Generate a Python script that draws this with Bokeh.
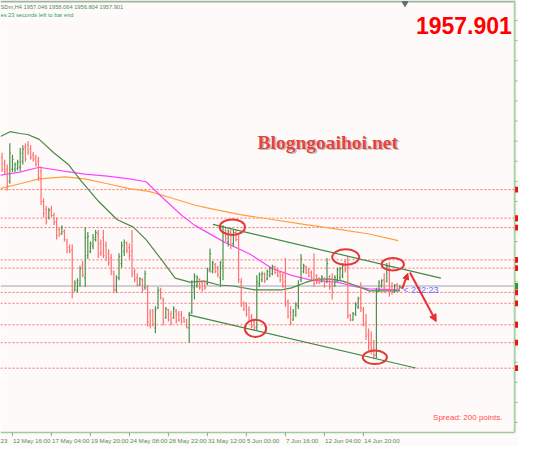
from bokeh.plotting import figure
from bokeh.models import Range1d, FixedTicker, ColumnDataSource, Arrow, NormalHead
from bokeh.core.properties import value
from bokeh.embed import file_html
from bokeh.resources import INLINE

# ---------------- data (XAUUSD, H4) ----------------
opens = [2021, 2022, 2019, 2016, 2010, 2016, 2016, 2016.5, 2017, 2020,
         2027, 2028, 2026, 2023, 2022, 2020, 2015, 2000, 1996, 1992,
         1996, 1993, 1990, 1986, 1984, 1985, 1980, 1977, 1976, 1956,
         1956, 1959, 1968.5, 1962, 1973, 1975, 1978, 1981, 1984, 1979,
         1982, 1978, 1974, 1972, 1964, 1956, 1962, 1969, 1975, 1979,
         1977, 1975, 1965, 1962, 1958.5, 1961, 1957, 1957, 1944, 1945,
         1937, 1947, 1956, 1951, 1942, 1946, 1944, 1942, 1945.5, 1944,
         1943.5, 1942, 1941, 1937, 1945, 1957, 1958, 1961, 1959.5, 1960,
         1959, 1966, 1965, 1968.5, 1967, 1962, 1968, 1985.5, 1980, 1984.5,
         1979, 1984.5, 1981, 1960, 1949.5, 1948, 1946, 1942.5, 1940, 1937.5,
         1959, 1961, 1964, 1961.5, 1963.5, 1964, 1967.5, 1966, 1964.5, 1963,
         1960, 1950, 1945, 1941, 1943.5, 1948, 1961, 1965, 1967.5, 1966,
         1964.5, 1962, 1963, 1961.5, 1960, 1961.5, 1959.5, 1962.5, 1959, 1958,
         1961, 1962, 1963, 1970, 1967, 1943.5, 1941, 1944, 1947.5, 1952,
         1946, 1940, 1934, 1929, 1927, 1923.5, 1955.5, 1958, 1961, 1960,
         1967, 1957.5, 1955, 1958.5, 1956.8, 1957.046]
highs = [2023.2, 2024.2, 2020.8, 2018.4, 2029.0, 2023.2, 2019.4, 2020.8, 2026.6, 2028.0,
         2029.0, 2029.9, 2028.0, 2024.6, 2023.2, 2022.2, 2017.4, 2001.6, 1997.8, 1996.8,
         1997.8, 1994.4, 1992.0, 1987.2, 1988.2, 1986.2, 1981.4, 1978.6, 1978.6, 1960.8,
         1961.8, 1968.0, 1970.4, 1987.2, 1984.8, 1980.0, 1983.8, 1985.8, 1985.8, 1981.0,
         1985.8, 1980.0, 1976.2, 1973.8, 1965.6, 1963.2, 1974.2, 1980.0, 1981.0, 1980.0,
         1979.0, 1985.8, 1966.6, 1964.2, 1962.2, 1961.8, 1965.6, 1958.4, 1946.4, 1946.4,
         1947.8, 1957.4, 1957.0, 1952.2, 1947.4, 1946.4, 1945.4, 1947.8, 1946.4, 1945.4,
         1945.4, 1942.6, 1941.6, 1945.0, 1960.8, 1964.2, 1963.2, 1961.8, 1960.8, 1960.8,
         1967.0, 1976.6, 1970.4, 1969.4, 1968.0, 1970.4, 1988.2, 1987.2, 1986.2, 1986.2,
         1985.8, 1985.8, 1983.8, 1961.8, 1950.2, 1949.8, 1947.8, 1944.0, 1941.6, 1963.2,
         1964.6, 1965.1, 1964.6, 1966.1, 1967.5, 1968.5, 1968.0, 1967.0, 1965.6, 1964.6,
         1971.8, 1951.2, 1947.8, 1946.4, 1949.8, 1960.8, 1973.8, 1969.0, 1968.0, 1967.0,
         1965.6, 1974.2, 1963.7, 1962.2, 1963.2, 1962.2, 1971.8, 1963.2, 1964.2, 1963.2,
         1967.0, 1967.5, 1969.4, 1971.4, 1972.8, 1944.0, 1945.0, 1949.8, 1952.6, 1959.8,
         1947.4, 1944.0, 1936.8, 1935.4, 1931.0, 1957.0, 1960.8, 1961.3, 1964.2, 1969.4,
         1969.9, 1959.8, 1958.9, 1959.4, 1958.4, 1958.064]
lows = [2011.2, 2014.6, 2013.6, 2005.4, 2008.8, 2014.6, 2014.6, 2015.5, 2015.0, 2018.4,
        2019.8, 2023.2, 2020.8, 2019.8, 2017.4, 2010.2, 1998.2, 1992.0, 1988.6, 1991.0,
        1992.0, 1988.2, 1981.0, 1982.4, 1983.4, 1980.0, 1974.2, 1974.2, 1951.7, 1955.0,
        1954.6, 1957.4, 1962.2, 1957.4, 1971.4, 1974.2, 1976.2, 1980.0, 1971.8, 1972.8,
        1971.8, 1970.4, 1968.0, 1963.2, 1954.6, 1954.6, 1960.8, 1967.0, 1972.8, 1974.2,
        1971.4, 1962.2, 1959.8, 1957.4, 1957.9, 1954.6, 1956.0, 1937.8, 1936.8, 1937.8,
        1934.4, 1946.4, 1951.2, 1938.2, 1941.6, 1940.2, 1938.2, 1941.6, 1939.2, 1940.2,
        1939.2, 1939.7, 1936.8, 1929.6, 1944.0, 1951.2, 1957.0, 1956.0, 1955.0, 1956.0,
        1958.4, 1964.6, 1964.2, 1964.2, 1962.2, 1957.4, 1960.8, 1980.0, 1977.6, 1976.2,
        1977.6, 1980.0, 1959.4, 1947.4, 1945.4, 1942.6, 1940.2, 1936.8, 1935.8, 1935.8,
        1957.4, 1959.8, 1959.4, 1960.8, 1962.2, 1963.2, 1963.7, 1962.2, 1959.8, 1957.0,
        1947.4, 1941.6, 1938.2, 1940.6, 1942.6, 1946.4, 1959.8, 1964.2, 1963.7, 1962.2,
        1960.8, 1957.4, 1958.9, 1958.9, 1959.8, 1957.0, 1959.4, 1956.0, 1951.2, 1957.4,
        1959.8, 1960.8, 1961.8, 1964.6, 1941.6, 1940.2, 1940.6, 1943.0, 1946.4, 1945.0,
        1937.8, 1931.0, 1925.8, 1923.8, 1921.4, 1921.9, 1955.0, 1957.0, 1954.6, 1959.8,
        1952.6, 1953.6, 1954.6, 1956.0, 1956.5, 1956.804]
closes = [2013, 2016, 2015, 2008, 2024, 2021, 2018.5, 2019.5, 2024, 2026,
          2021, 2024.5, 2022, 2021, 2018.5, 2012, 2000, 1994, 1990, 1995.5,
          1993, 1989.5, 1983, 1983.5, 1987, 1981, 1975.5, 1975, 1955, 1959.5,
          1960.5, 1966.5, 1963.5, 1982, 1982.5, 1979, 1982, 1984.5, 1974, 1974.5,
          1973, 1972, 1969.5, 1965, 1956, 1962, 1972.5, 1978, 1979.5, 1975.5,
          1973, 1964, 1961, 1958.5, 1961.5, 1956, 1964, 1940, 1938, 1939,
          1946, 1955.5, 1952, 1940, 1946.5, 1941, 1939.5, 1946.5, 1940.5, 1941,
          1940, 1940, 1937.5, 1944, 1958, 1962.5, 1962, 1957, 1956, 1957,
          1965.5, 1974, 1969.5, 1965, 1963.5, 1969.5, 1984, 1981.5, 1985, 1978,
          1984.5, 1981, 1961, 1949, 1946.5, 1944, 1941.5, 1938, 1937, 1960,
          1963.5, 1964, 1960.5, 1965, 1966.5, 1967.5, 1964.5, 1963, 1961, 1958,
          1949, 1943, 1939.5, 1945, 1948.5, 1958.5, 1971.5, 1968, 1964.5, 1963,
          1961.5, 1959, 1960, 1959.5, 1962.5, 1958, 1969, 1957.5, 1955, 1962,
          1966, 1966.5, 1968, 1966, 1943, 1941, 1944, 1948.5, 1951.5, 1947,
          1939, 1933, 1928, 1926, 1923.5, 1955, 1959.5, 1960.5, 1957, 1967.5,
          1955, 1955, 1958, 1956.5, 1957.3, 1957.901]

# moving averages (bar position, price)
ma_green_x = [0.4, 4.1, 7.9, 10.9, 15.3, 20.9, 26.5, 31.4, 37.7, 45.2, 51.5, 56.4, 62.7, 67.6,
              73.2, 78.8, 84.4, 90.0, 98.2, 108.6, 112.4, 118.0, 122.4, 127.3, 132.1, 138.5, 142.2, 154.1]
ma_green_y = [2032.3, 2034.7, 2033.8, 2033.3, 2030.9, 2024.2, 2018.4, 2010.2, 2000.6, 1991.0, 1987.2,
              1981.0, 1970.4, 1961.8, 1959.8, 1960.3, 1958.4, 1957.9, 1956.0, 1956.0, 1957.0, 1959.8,
              1961.3, 1961.3, 1960.3, 1957.4, 1955.5, 1955.5]
ma_magenta_x = [0.4, 7.9, 15.3, 25.4, 32.9, 41.5, 50.0, 56.4, 63.8, 70.2, 75.0, 86.2, 96.3, 104.9,
                112.4, 119.8, 129.9, 137.4, 142.2, 154.1]
ma_magenta_y = [2013.1, 2014.6, 2017.0, 2015.0, 2013.6, 2012.6, 2011.2, 2009.8, 2000.6, 1993.0, 1988.2,
                1980.0, 1973.8, 1966.6, 1963.2, 1960.8, 1959.8, 1957.4, 1956.5, 1956.0]
ma_orange_x = [0.4, 7.9, 15.3, 25.4, 32.9, 41.5, 50.0, 57.5, 66.5, 75.0, 79.9, 92.6, 104.9, 117.2,
               130.0, 142.2, 153.4]
ma_orange_y = [2006.4, 2008.8, 2011.2, 2012.2, 2011.2, 2008.8, 2006.4, 2005.0, 2001.6, 1998.2, 1996.8,
               1993.4, 1991.0, 1988.6, 1986.2, 1983.8, 1980.5]

# horizontal levels and bid
level_prices = [2005.9, 1991.7, 1987.0, 1970.9, 1966.8, 1954.7, 1949.3, 1938.6, 1929.7, 1917.0]
bid_price = 1957.901

# channel trend lines (bar, price)
upper_line_x = [82.1, 169.8]
upper_line_y = [1988.6, 1961.8]
lower_line_x = [72.8, 160.1]
lower_line_y = [1943.5, 1917.1]

# marked swing points (ellipses)
mark_x = [89.6, 133.2, 151.3, 98.5, 144.4]
mark_y = [1987.2, 1972.3, 1968.7, 1936.8, 1922.4]
mark_w = [9.7, 10.4, 8.6, 8.2, 9.3]
mark_h = [7.7, 7.7, 6.2, 8.6, 6.7]

# time axis: tick bars and their labels (label text starts at its tick)
tick_bars = [5.0, 20.0, 35.0, 50.0, 65.0, 80.0, 95.0, 110.0, 125.0, 140.0]
tick_labels = ["12 May 16:00", "17 May 04:00", "19 May 20:00", "24 May 08:00", "28 May 22:00",
               "31 May 12:00", "5 Jun 00:00", "7 Jun 16:00", "12 Jun 04:00", "14 Jun 20:00"]
first_label = "23"

# ---------------- styling ----------------
BG = "#fffafa"
UP = "#4a924a"
DOWN = "#ff7272"
X0, X1 = 0.41, 199.66
Y0, Y1 = 1883.0, 2100.0
AXIS_P = 1884.96
EDGE = 198.2
FONT = value("Liberation Sans")
LABEL_PX = 6.2
PX_PER_BAR = 518 / (X1 - X0)

p = figure(width=518, height=446, x_range=Range1d(X0, X1), y_range=Range1d(Y0, Y1),
           output_backend="svg", toolbar_location=None, y_axis_location=None,
           min_border_left=0, min_border_right=0, min_border_top=0, min_border_bottom=10,
           background_fill_color=BG, border_fill_color=BG, outline_line_color=None)
p.grid.visible = False

# label axis: labels centred so that each text begins at its tick
def half_width_em(s):
    w = 0.0
    for ch in s:
        w += 0.278 if ch in " :" else (0.833 if ch == "M" else (0.5 if ch in "Jy" else 0.556))
    return w / 2

centers = [X0 + 1.2] + [t + half_width_em(s) * LABEL_PX / PX_PER_BAR + 0.2
                        for t, s in zip(tick_bars, tick_labels)]
texts = [first_label] + tick_labels
ax = p.xaxis[0]
ax.ticker = FixedTicker(ticks=centers)
ax.major_label_overrides = {c: s for c, s in zip(centers, texts)}
ax.major_label_text_font = "Liberation Sans"
ax.major_label_text_font_size = f"{LABEL_PX}px"
ax.major_label_text_color = "#4f8f4f"
ax.major_label_standoff = 0
ax.major_tick_in = 0
ax.major_tick_out = 0
ax.major_tick_line_color = None
ax.minor_tick_line_color = None
ax.axis_line_color = None

# time axis line and tick marks
p.line([X0, EDGE], [AXIS_P, AXIS_P], line_color="#9ccc9c", line_width=1.5)
p.segment(x0=tick_bars, y0=[AXIS_P] * len(tick_bars), x1=tick_bars, y1=[Y0] * len(tick_bars),
          line_color="#7cb87c", line_width=1)

# horizontal levels
p.multi_line(xs=[[X0, EDGE] for _ in level_prices], ys=[[v, v] for v in level_prices],
             line_color="#ff5a5a", line_width=1, line_dash="2 2", line_alpha=0.9)
p.line([X0, EDGE], [bid_price, bid_price], line_color="#a4a4ae", line_width=1)

# moving averages
p.line(ma_orange_x, ma_orange_y, line_color="#ffa040", line_width=1.2)
p.line(ma_magenta_x, ma_magenta_y, line_color="#ff44ff", line_width=1.2)
p.line(ma_green_x, ma_green_y, line_color="#4a8a4a", line_width=1.2)

# OHLC bars
idx = list(range(len(opens)))
cols = [UP if c >= o else DOWN for o, c in zip(opens, closes)]
src = ColumnDataSource(dict(x=idx, xl=[i - 0.45 for i in idx], xr=[i + 0.45 for i in idx],
                            o=opens, h=highs, l=lows, c=closes, col=cols))
p.segment(x0="x", y0="l", x1="x", y1="h", line_color="col", line_width=1.2, source=src)
p.segment(x0="xl", y0="o", x1="x", y1="o", line_color="col", line_width=1, source=src)
p.segment(x0="x", y0="c", x1="xr", y1="c", line_color="col", line_width=1, source=src)

# channel
p.line(upper_line_x, upper_line_y, line_color="#3f8a3f", line_width=1.2)
p.line(lower_line_x, lower_line_y, line_color="#3f8a3f", line_width=1.2)

# ellipses
p.ellipse(x=mark_x, y=mark_y, width=mark_w, height=mark_h, fill_color=None,
          line_color="#e03a3a", line_width=2)

# arrows
p.add_layout(Arrow(end=NormalHead(size=6, fill_color="#e83030", line_color="#e83030"),
                   x_start=154.9, y_start=1956.5, x_end=157.1, y_end=1964.2,
                   line_color="#e83030", line_width=2))
p.add_layout(Arrow(end=NormalHead(size=7, fill_color="#e83030", line_color="#e83030"),
                   x_start=157.9, y_start=1964.6, x_end=168.0, y_end=1940.2,
                   line_color="#e83030", line_width=2))

# frame edges of the terminal window
p.line([X0, EDGE], [2099.5, 2099.5], line_color="#a0b4a0", line_width=2)
p.line([EDGE, EDGE], [AXIS_P, Y1], line_color="#a8d4a8", line_width=2)
tick_prices = list(range(1890, 2100, 10))
p.segment(x0=[EDGE] * len(tick_prices), y0=tick_prices, x1=[EDGE + 1.1] * len(tick_prices),
          y1=tick_prices, line_color="#8cc08c", line_width=1)
p.rect(x=[199.0] * len(level_prices), y=level_prices, width=1.3, height=2.9,
       fill_color="#ee1111", line_color=None)
p.rect(x=[199.0], y=[bid_price], width=1.3, height=2.9, fill_color="#2a9a2a", line_color=None)
p.scatter(x=[156], y=[2098.6], marker="inverted_triangle", size=6, color="#607070")

# texts
p.text(x=[X0], y=[2096.6], text=["SDm,H4  1957.046 1958.064 1956.804 1957.901"],
       text_font=FONT, text_font_size="5.7px", text_color="#4f8a5a",
       text_align="left", text_baseline="middle")
p.text(x=[X0], y=[2092.6], text=["es 23 seconds left to bar end"],
       text_font=FONT, text_font_size="5.7px", text_color="#2f9a68",
       text_align="left", text_baseline="middle")
p.text(x=[197.1], y=[2087.5], text=["1957.901"], text_font=FONT, text_font_size="23px",
       text_font_style="bold", text_color="#ff0000", text_align="right", text_baseline="alphabetic")
p.text(x=[99.3], y=[2029.4], text=["Blogngoaihoi.net"], text_font=value("Liberation Serif"),
       text_font_size="19.5px", text_font_style="bold", text_color="#8a8a8a", text_alpha=0.55,
       text_align="left", text_baseline="alphabetic", x_offset=1.5, y_offset=1.5)
p.text(x=[99.3], y=[2029.4], text=["Blogngoaihoi.net"], text_font=value("Liberation Serif"),
       text_font_size="19.5px", text_font_style="bold", text_color="#e8423c",
       text_align="left", text_baseline="alphabetic")
p.text(x=[166.8], y=[1892.6], text=["Spread: 200 points."], text_font=FONT, text_font_size="8px",
       text_color="#ff4a4a", text_align="left", text_baseline="middle")
p.text(x=[155.3], y=[1956.0], text=["< 232:23"], text_font=FONT, text_font_size="9px",
       text_color="#6b6bff", text_align="left", text_baseline="middle")

open("out.html", "w").write(file_html(p, INLINE))
